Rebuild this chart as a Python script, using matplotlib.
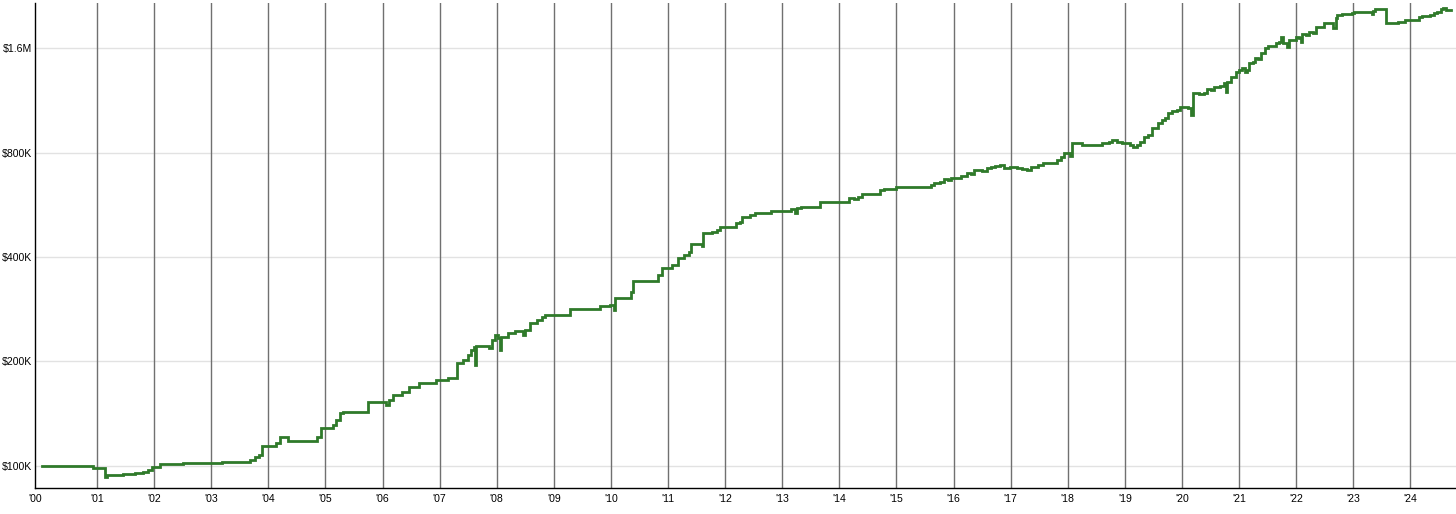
import matplotlib
matplotlib.use("Agg")
import matplotlib.pyplot as plt
from matplotlib.ticker import FixedLocator, FixedFormatter, NullLocator

# Equity curve (decimal year, value in $K)
dates = [2000.04, 2000.93, 2001.14, 2001.18, 2001.46, 2001.67, 2001.81, 2001.89, 2001.96, 2002.10,
         2002.51, 2003.19, 2003.68, 2003.77, 2003.84, 2003.89, 2004.14, 2004.21, 2004.35, 2004.85,
         2004.92, 2005.13, 2005.19, 2005.26, 2005.31, 2005.75, 2006.06, 2006.11, 2006.18, 2006.34,
         2006.47, 2006.64, 2006.94, 2007.15, 2007.31, 2007.41, 2007.50, 2007.55, 2007.60, 2007.62,
         2007.64, 2007.87, 2007.92, 2007.97, 2008.02, 2008.06, 2008.08, 2008.20, 2008.32, 2008.46,
         2008.50, 2008.58, 2008.71, 2008.79, 2008.85, 2009.29, 2009.81, 2009.99, 2010.06, 2010.07,
         2010.35, 2010.39, 2010.83, 2010.90, 2011.07, 2011.18, 2011.28, 2011.37, 2011.40, 2011.60,
         2011.61, 2011.77, 2011.86, 2011.91, 2012.19, 2012.26, 2012.30, 2012.44, 2012.53, 2012.81,
         2013.16, 2013.23, 2013.26, 2013.33, 2013.66, 2014.17, 2014.26, 2014.33, 2014.40, 2014.72,
         2014.79, 2015.00, 2015.61, 2015.66, 2015.77, 2015.84, 2015.91, 2015.96, 2016.13, 2016.24,
         2016.31, 2016.36, 2016.50, 2016.59, 2016.66, 2016.73, 2016.82, 2016.89, 2016.99, 2017.11,
         2017.20, 2017.29, 2017.36, 2017.48, 2017.57, 2017.82, 2017.89, 2017.94, 2018.04, 2018.08,
         2018.25, 2018.60, 2018.73, 2018.78, 2018.87, 2018.95, 2019.09, 2019.15, 2019.22, 2019.27,
         2019.34, 2019.41, 2019.48, 2019.58, 2019.65, 2019.71, 2019.76, 2019.83, 2019.92, 2019.97,
         2020.11, 2020.16, 2020.20, 2020.30, 2020.39, 2020.44, 2020.51, 2020.57, 2020.67, 2020.74,
         2020.78, 2020.79, 2020.86, 2020.95, 2021.00, 2021.06, 2021.11, 2021.14, 2021.18, 2021.25,
         2021.28, 2021.34, 2021.39, 2021.46, 2021.51, 2021.65, 2021.70, 2021.74, 2021.77, 2021.84,
         2021.88, 2022.00, 2022.05, 2022.09, 2022.11, 2022.18, 2022.23, 2022.30, 2022.34, 2022.48,
         2022.65, 2022.69, 2022.72, 2022.81, 2022.98, 2023.02, 2023.33, 2023.35, 2023.39, 2023.58,
         2023.79, 2023.91, 2024.16, 2024.21, 2024.35, 2024.42, 2024.47, 2024.54, 2024.58, 2024.63,
         2024.72]

values_k = [100.0, 98.5, 92.8, 94.0, 94.6, 95.3, 95.9, 97.2, 99.1, 101.1,
            101.8, 102.5, 103.9, 106.0, 107.4, 114.0, 116.3, 121.0, 117.8, 121.0,
            128.5, 131.0, 135.5, 141.9, 142.9, 152.7, 149.7, 154.7, 159.9, 163.2,
            168.7, 173.2, 176.7, 179.1, 197.8, 201.8, 208.6, 215.7, 220.0, 195.2,
            221.5, 218.5, 230.5, 238.3, 233.6, 215.7, 235.1, 241.4, 244.7, 238.3,
            246.3, 258.0, 263.2, 268.5, 272.1, 283.2, 288.9, 290.8, 281.3, 304.6,
            317.0, 341.1, 354.9, 371.8, 379.3, 397.4, 405.4, 413.5, 436.1, 430.3,
            469.1, 472.3, 478.6, 488.2, 501.4, 504.7, 521.7, 528.7, 535.8, 543.0,
            550.2, 535.8, 553.9, 557.6, 576.4, 591.9, 588.0, 595.9, 607.9, 624.2,
            628.4, 636.8, 645.3, 653.9, 658.3, 671.5, 667.1, 676.0, 685.0, 698.8,
            694.2, 712.9, 708.2, 722.4, 727.2, 732.1, 737.0, 722.4, 727.2, 722.4,
            717.6, 712.9, 727.2, 737.0, 746.8, 761.9, 777.2, 798.1, 782.4, 852.9,
            841.7, 852.9, 858.6, 870.1, 858.6, 852.9, 841.7, 830.6, 841.7, 858.6,
            887.6, 899.5, 942.3, 974.1, 993.7, 1007.0, 1041.0, 1055.0, 1062.0, 1083.4,
            1076.2, 1027.3, 1188.9, 1181.1, 1188.9, 1221.0, 1212.9, 1237.3, 1245.5, 1270.6,
            1196.9, 1279.1, 1322.3, 1366.9, 1385.2, 1403.7, 1366.9, 1385.2, 1451.1, 1460.8,
            1500.1, 1490.2, 1550.8, 1603.2, 1624.6, 1657.3, 1668.4, 1724.7, 1657.3, 1613.9,
            1690.7, 1724.7, 1713.3, 1668.4, 1759.4, 1747.8, 1782.9, 1771.1, 1843.2, 1892.8,
            1831.0, 1956.7, 1996.1, 2009.4, 2022.8, 2036.3, 2009.4, 2049.9, 2077.3, 1892.8,
            1905.4, 1930.9, 1969.8, 1982.9, 1996.1, 2022.8, 2036.3, 2077.3, 2091.2, 2063.6,
            2063.6]

year_ticks = list(range(2001, 2025))
year_labels = ["'%02d" % (y % 100) for y in year_ticks]
y_ticks = [100000, 200000, 400000, 800000, 1600000]
y_labels = ["$100K", "$200K", "$400K", "$800K", "$1.6M"]

plt.rcParams['font.family'] = ['Liberation Sans', 'DejaVu Sans']

fig = plt.figure(figsize=(14.56, 5.14), dpi=100)
ax = fig.add_axes([35 / 1456, 1 - 488 / 514, 1 - 35 / 1456, (488 - 3) / 514])

values = [v * 1000 for v in values_k]
ax.plot(dates, values, drawstyle='steps-post', color='#2f7a2a', lw=2.0,
        solid_joinstyle='miter', zorder=3)

ax.set_yscale('log')
ax.set_ylim(86200, 2161700)
x_left = 1999.914
ax.set_xlim(x_left, 2024.80)

# vertical year lines
for y in year_ticks:
    ax.axvline(y, color='#707070', lw=1.0, zorder=1)
# horizontal grid
for v in y_ticks:
    ax.axhline(v, color='#e2e2e2', lw=1.0, zorder=0)

ax.xaxis.set_major_locator(FixedLocator([x_left] + year_ticks))
ax.xaxis.set_major_formatter(FixedFormatter(["'00"] + year_labels))
ax.xaxis.set_minor_locator(NullLocator())
ax.yaxis.set_major_locator(FixedLocator(y_ticks))
ax.yaxis.set_major_formatter(FixedFormatter(y_labels))
ax.yaxis.set_minor_locator(NullLocator())

ax.tick_params(axis='x', length=0, pad=4.5, labelsize=7.6, colors='#000000')
ax.tick_params(axis='y', length=0, pad=2.2, labelsize=7.6, colors='#000000')
ax.tick_params(which='minor', length=0)

for s in ['top', 'right']:
    ax.spines[s].set_visible(False)
ax.spines['left'].set_color('black')
ax.spines['bottom'].set_color('black')
ax.spines['left'].set_linewidth(1.0)
ax.spines['bottom'].set_linewidth(1.0)

fig.savefig('out.png', dpi=100)
